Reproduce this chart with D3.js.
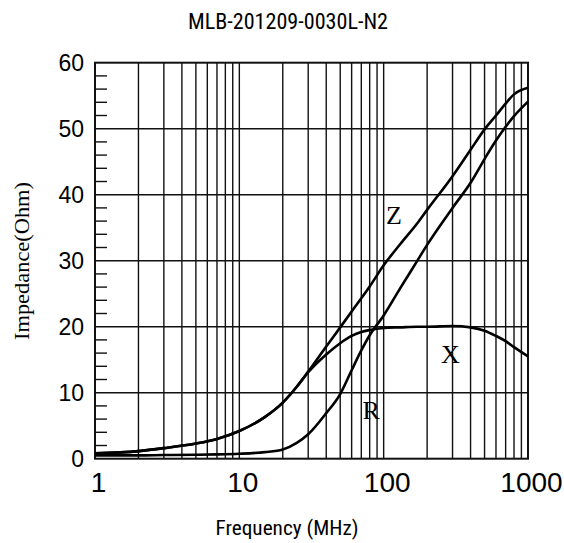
<!DOCTYPE html>
<html>
<head>
<meta charset="utf-8">
<script src="https://cdn.jsdelivr.net/npm/d3@7"></script>
<style>
  html, body { margin: 0; padding: 0; background: #fff; }
  svg { display: block; }
</style>
</head>
<body>
<svg id="chart" width="564" height="543"></svg>
<script>
// ---- data ----
const title = "MLB-201209-0030L-N2";
const xTitle = "Frequency (MHz)";
const yTitle = "Impedance(Ohm)";
const xTickValues = [1, 10, 100, 1000];
const yTickValues = [0, 10, 20, 30, 40, 50, 60];
const freq = [1, 2, 3, 5, 7, 10, 15, 20, 25, 30, 40, 50, 60, 70, 80, 100, 130, 170, 200, 300, 400, 500, 600, 700, 800, 1000];
const zValues = [0.8, 1.15, 1.6, 2.3, 3.0, 4.2, 6.3, 8.5, 10.9, 13.2, 17.0, 19.9, 22.3, 24.3, 26.1, 29.3, 32.5, 35.6, 37.7, 42.8, 46.8, 49.9, 52.0, 53.8, 55.2, 56.2];
const xValues = [0.8, 1.15, 1.6, 2.3, 3.0, 4.2, 6.3, 8.5, 10.9, 13.1, 15.8, 17.5, 18.6, 19.2, 19.5, 19.8, 19.9, 20.0, 20.0, 20.1, 19.9, 19.4, 18.6, 17.8, 16.9, 15.5];
const rValues = [0.5, 0.5, 0.55, 0.6, 0.65, 0.75, 1.0, 1.4, 2.4, 3.7, 6.9, 9.8, 13.4, 16.4, 18.7, 21.7, 25.8, 29.9, 32.4, 38.0, 41.8, 45.4, 48.2, 50.3, 51.9, 54.1];
const seriesLabels = [
  { name: "Z", f: 118, v: 35.5 },
  { name: "X", f: 290, v: 14.5 },
  { name: "R", f: 82, v: 6.0 }
];

// ---- layout ----
const svg = d3.select("#chart");
const L = 95, R = 528, T = 62.7, B = 458.7;
const x = d3.scaleLog().domain([1, 1000]).range([L, R]);
const y = d3.scaleLinear().domain([0, 60]).range([B, T]);
const ink = "#111";

// minor vertical grid lines (2..9 of each decade) + decades
const vLines = [];
for (let d = 1; d < 1000; d *= 10) {
  for (let k = 1; k <= 9; k++) vLines.push(d * k);
}
vLines.push(1000);
svg.append("g").selectAll("line").data(vLines.filter(v => v > 1 && v < 1000)).join("line")
  .attr("x1", d => x(d)).attr("x2", d => x(d))
  .attr("y1", T).attr("y2", B)
  .attr("stroke", ink).attr("stroke-width", 1.4);

// horizontal grid lines
svg.append("g").selectAll("line").data([10, 20, 30, 40, 50]).join("line")
  .attr("x1", L).attr("x2", R)
  .attr("y1", d => y(d)).attr("y2", d => y(d))
  .attr("stroke", ink).attr("stroke-width", 1.4);

// minor y ticks (every 2 units)
const minorY = d3.range(2, 60, 2).filter(v => v % 10 !== 0);
svg.append("g").selectAll("line").data(minorY).join("line")
  .attr("x1", L).attr("x2", L + 12)
  .attr("y1", d => y(d)).attr("y2", d => y(d))
  .attr("stroke", ink).attr("stroke-width", 1.4);

// frame
svg.append("rect").attr("x", L).attr("y", T).attr("width", R - L).attr("height", B - T)
  .attr("fill", "none").attr("stroke", ink).attr("stroke-width", 2);

// axes labels via d3 axes
const xAxis = d3.axisBottom(x).tickValues(xTickValues).tickSize(0).tickPadding(0).tickFormat(d3.format("d"));
const gx = svg.append("g").attr("transform", `translate(0,${B})`).call(xAxis);
gx.select(".domain").remove();
gx.selectAll("text")
  .attr("y", 33).attr("dy", null).attr("dx", 3)
  .attr("fill", "#000")
  .style("font-family", "'Liberation Sans', Arial, sans-serif")
  .style("font-size", "28px");

const yAxis = d3.axisLeft(y).tickValues(yTickValues).tickSize(0).tickPadding(0).tickFormat(d3.format("d"));
const gy = svg.append("g").attr("transform", `translate(${L},0)`).call(yAxis);
gy.select(".domain").remove();
gy.selectAll("text")
  .attr("x", -11).attr("dy", "0.36em")
  .attr("fill", "#000")
  .style("font-family", "'Liberation Sans', Arial, sans-serif")
  .style("font-size", "23px");

// curves
const line = d3.line()
  .x(d => x(d[0]))
  .y(d => y(d[1]))
  .curve(d3.curveMonotoneX);
[zValues, xValues, rValues].forEach(vals => {
  svg.append("path")
    .datum(freq.map((f, i) => [f, vals[i]]))
    .attr("d", line)
    .attr("fill", "none")
    .attr("stroke", "#000")
    .attr("stroke-width", 2.6)
    .attr("stroke-linejoin", "round");
});

// series labels
svg.append("g").selectAll("text").data(seriesLabels).join("text")
  .attr("x", d => x(d.f)).attr("y", d => y(d.v))
  .attr("text-anchor", "middle")
  .style("font-family", "'Liberation Serif', 'Times New Roman', serif")
  .style("font-size", "26px")
  .text(d => d.name);

// titles
svg.append("text")
  .attr("x", 288).attr("y", 29)
  .attr("text-anchor", "middle")
  .attr("textLength", 200).attr("lengthAdjust", "spacingAndGlyphs")
  .style("font-family", "'Liberation Sans Narrow', 'Roboto Condensed', 'Liberation Sans', sans-serif")
  .style("font-size", "22px")
  .text(title);

svg.append("text")
  .attr("x", 287).attr("y", 535)
  .attr("text-anchor", "middle")
  .attr("textLength", 143).attr("lengthAdjust", "spacingAndGlyphs")
  .style("font-family", "'Liberation Sans Narrow', 'Roboto Condensed', 'Liberation Sans', sans-serif")
  .style("font-size", "21px")
  .text(xTitle);

svg.append("text")
  .attr("transform", `translate(29,261) rotate(-90)`)
  .attr("text-anchor", "middle")
  .attr("textLength", 158).attr("lengthAdjust", "spacingAndGlyphs")
  .style("font-family", "'Liberation Serif', 'Times New Roman', serif")
  .style("font-size", "22px")
  .text(yTitle);
</script>
</body>
</html>
